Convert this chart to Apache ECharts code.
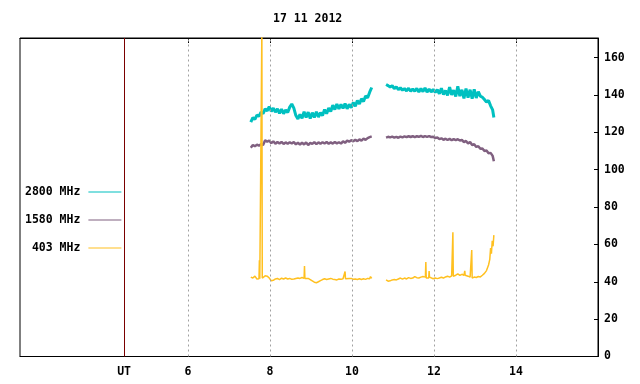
<!DOCTYPE html>
<html>
<head>
<meta charset="utf-8">
<script src="https://cdn.jsdelivr.net/npm/echarts@6/dist/echarts.min.js"></script>
<style>html,body{margin:0;padding:0;background:#fff}#c{width:640px;height:384px}</style>
</head>
<body>
<div id="c"></div>
<script>
var titleText = '17 11 2012';
var seriesNames = ['2800 MHz', '1580 MHz', '403 MHz'];
var xTicks = [6, 8, 10, 12, 14];
var utHour = 4.44;
var yTicks = [0, 20, 40, 60, 80, 100, 120, 140, 160];

// sample times (UT hours)
var timesA1 = [7.53,7.58,7.63,7.68,7.73,7.78,7.83,7.88,7.93,7.98,8.03,8.08,8.13,8.18,8.23,8.28,8.33,8.38,8.43,8.48,8.53,8.58,8.63,8.68,8.73,8.78,8.83,8.88,8.93,8.98,9.03,9.08,9.13,9.18,9.23,9.28,9.33,9.38,9.43,9.48,9.53,9.58,9.63,9.68,9.73,9.78,9.83,9.88,9.93,9.98,10.03,10.08,10.13,10.18,10.23,10.28,10.33,10.38,10.43,10.48];
var timesA2 = [10.83,10.88,10.93,10.98,11.03,11.08,11.13,11.18,11.23,11.28,11.33,11.38,11.43,11.48,11.53,11.58,11.63,11.68,11.73,11.78,11.83,11.88,11.93,11.98,12.03,12.08,12.13,12.18,12.23,12.28,12.33,12.38,12.43,12.48,12.53,12.58,12.63,12.68,12.73,12.78,12.83,12.88,12.93,12.98,13.03,13.08,13.13,13.18,13.23,13.28,13.33,13.38,13.43,13.46];

var mhz2800_1 = [125.5,127.8,127.0,129.2,128.6,130.8,130.0,132.6,131.5,133.8,131.2,133.0,130.8,132.6,130.2,132.4,130.0,132.0,130.6,133.5,135.2,133.0,129.0,127.2,129.6,127.5,131.0,128.0,130.8,127.4,130.5,128.0,131.0,128.2,130.5,129.0,132.2,130.0,133.0,131.2,134.5,132.2,135.2,132.5,135.0,132.8,135.4,132.6,135.0,133.2,136.0,134.0,137.0,135.2,138.0,136.5,139.5,138.5,141.5,144.0];
var mhz2800_2 = [145.6,145.0,144.2,145.0,143.4,144.4,142.8,143.8,142.6,143.4,142.2,143.6,142.0,143.2,142.0,143.5,141.6,143.4,141.8,143.8,141.5,143.2,141.6,143.0,141.4,142.8,140.6,143.6,140.2,142.4,139.8,144.2,140.0,142.6,139.2,144.6,139.4,142.8,138.2,143.4,138.6,142.8,138.0,143.0,138.4,141.8,139.4,138.8,137.6,136.2,137.0,134.2,132.0,128.0];

var mhz1580_1 = [111.8,113.2,112.6,113.4,112.9,113.6,113.2,115.8,115.0,115.6,114.2,115.2,113.9,114.8,114.0,114.9,113.8,114.6,113.9,114.7,114.0,114.8,113.6,114.4,113.4,114.5,113.5,114.6,113.2,114.3,113.8,114.8,113.7,114.6,113.9,114.7,114.0,114.8,113.9,114.6,114.0,114.8,114.1,114.7,114.0,115.2,114.4,115.6,115.0,115.8,115.2,116.0,115.3,116.2,115.6,116.6,116.0,116.9,117.4,117.8];
var mhz1580_2 = [117.2,117.6,117.3,117.7,117.2,117.6,117.1,117.7,117.3,117.8,117.4,117.9,117.5,118.0,117.4,117.9,117.6,118.1,117.5,118.0,117.6,118.0,117.5,117.6,117.0,117.2,116.4,116.8,116.0,116.6,115.9,116.5,115.8,116.4,115.8,116.3,115.6,115.9,114.8,115.4,114.0,114.8,113.2,113.6,112.2,112.6,111.2,111.4,110.0,110.3,108.8,109.0,107.4,104.5];

var timesB1 = [7.53,7.55,7.58,7.61,7.63,7.68,7.71,7.73,7.74,7.75,7.78,7.79,7.80,7.81,7.83,7.88,7.93,7.98,8.03,8.08,8.13,8.18,8.23,8.28,8.33,8.38,8.43,8.48,8.53,8.58,8.63,8.68,8.73,8.78,8.83,8.84,8.85,8.88,8.93,8.98,9.03,9.08,9.13,9.18,9.23,9.28,9.33,9.38,9.43,9.48,9.53,9.58,9.63,9.68,9.73,9.78,9.82,9.83,9.84,9.88,9.93,9.98,10.03,10.08,10.13,10.18,10.23,10.28,10.33,10.38,10.43,10.45,10.48];
var mhz403_1 = [42.5,41.5,42.0,41.2,43.0,41.5,41.3,41.6,51.5,41.6,41.8,41.8,175,42.0,42.2,43.2,43.0,42.0,40.5,40.8,41.5,41.8,41.2,41.9,41.5,42.0,41.5,41.8,41.3,41.5,41.8,42.0,41.8,42.3,41.8,48.5,41.8,41.5,41.8,41.2,40.5,39.8,39.5,40.0,40.6,41.2,41.6,41.2,41.5,41.8,41.4,41.2,41.0,41.5,41.3,41.6,41.5,45.5,41.6,42.0,41.8,41.8,41.3,41.5,41.2,41.6,41.2,41.6,41.3,41.8,41.6,42.8,41.8];
var timesB2 = [10.83,10.88,10.93,10.98,11.03,11.08,11.13,11.18,11.23,11.28,11.33,11.38,11.43,11.48,11.53,11.58,11.63,11.68,11.73,11.77,11.79,11.80,11.81,11.84,11.87,11.88,11.89,11.93,11.98,12.03,12.08,12.13,12.18,12.23,12.28,12.33,12.38,12.43,12.45,12.46,12.47,12.53,12.58,12.63,12.68,12.73,12.75,12.76,12.83,12.88,12.91,12.92,12.93,12.98,13.03,13.08,13.13,13.18,13.23,13.28,13.33,13.36,13.38,13.40,13.42,13.44,13.46];
var mhz403_2 = [41.0,40.3,40.5,41.0,41.2,41.0,41.5,42.0,41.4,42.0,41.5,42.2,41.8,42.0,42.8,42.2,42.0,42.5,42.8,43.8,42.5,50.6,42.0,41.5,42.0,45.8,42.5,42.0,41.6,42.0,41.7,42.0,42.4,42.0,42.6,43.0,42.5,43.2,44.0,66.5,43.0,43.5,44.2,43.4,44.0,43.5,45.8,43.5,43.0,42.5,42.0,57.0,42.0,42.5,42.3,42.8,42.6,43.5,44.5,46.0,49.0,52.0,58.0,55.0,62.0,59.0,65.0];

function build(t1, v1, t2, v2) {
  var d = [];
  for (var i = 0; i < t1.length; i++) d.push([t1[i], v1[i]]);
  d.push([(t1[t1.length - 1] + t2[0]) / 2, null]);
  for (var j = 0; j < t2.length; j++) d.push([t2[j], v2[j]]);
  return d;
}

var FONT = 'DejaVu Sans Mono';
var colors = ['#00c0c0', '#806080', '#ffc020'];

var chart = echarts.init(document.getElementById('c'), null, {renderer: 'canvas'});
chart.setOption({
  animation: false,
  backgroundColor: '#ffffff',
  title: {
    text: titleText, left: 273, top: 13, padding: 0,
    textStyle: {fontFamily: FONT, fontWeight: 'bold', fontSize: 11.5, color: '#000'}
  },
  legend: {
    orient: 'vertical', left: 20, top: 181, align: 'right',
    icon: 'rect', itemWidth: 33, itemHeight: 1, itemGap: 16,
    data: seriesNames,
    formatter: function (n) { while (n.length < 8) n = ' ' + n; return n; },
    textStyle: {fontFamily: FONT, fontWeight: 'bold', fontSize: 11.5, color: '#000', padding: [0, 3, 0, 0]}
  },
  grid: {left: 20, right: 42, top: 38, bottom: 27.5, show: true, borderColor: '#000', borderWidth: 1, containLabel: false},
  xAxis: [{
    type: 'value', min: 1.9, max: 16, position: 'bottom',
    axisLine: {show: true, lineStyle: {color: '#000', width: 1}},
    axisTick: {show: false},
    splitLine: {show: false},
    axisLabel: {
      customValues: [utHour].concat(xTicks),
      margin: 10,
      formatter: function (v) { return Math.abs(v - utHour) < 1e-6 ? 'UT' : String(v); },
      fontFamily: FONT, fontWeight: 'bold', fontSize: 11.5, color: '#000'
    }
  }, {
    type: 'value', min: 1.9, max: 16, position: 'top',
    axisLine: {show: true, lineStyle: {color: '#000', width: 1}},
    axisTick: {show: true, inside: true, length: 5, customValues: xTicks, lineStyle: {color: '#000'}},
    axisLabel: {show: false},
    splitLine: {show: false}
  }],
  yAxis: {
    type: 'value', min: 0, max: 170.5, interval: 20, position: 'right',
    axisLine: {show: true, lineStyle: {color: '#000', width: 1}},
    axisTick: {show: true, inside: true, length: 4, lineStyle: {color: '#000'}},
    splitLine: {show: false},
    axisLabel: {
      margin: 6, showMaxLabel: false,
      formatter: function (v) { return yTicks.indexOf(v) >= 0 ? String(v) : ''; },
      fontFamily: FONT, fontWeight: 'bold', fontSize: 11.5, color: '#000'
    }
  },
  series: [{
    name: seriesNames[0], type: 'line', symbol: 'none', connectNulls: false,
    lineStyle: {width: 3, color: colors[0]}, itemStyle: {color: colors[0]},
    data: build(timesA1, mhz2800_1, timesA2, mhz2800_2),
    z: 3,
    markLine: {
      silent: true, symbol: 'none', label: {show: false},
      data: xTicks.map(function (v) {
        return {xAxis: v, lineStyle: {color: '#a0a0a0', type: [2, 3], width: 1}};
      }).concat([{xAxis: utHour, lineStyle: {color: '#7a0000', type: 'solid', width: 1}}])
    }
  }, {
    name: seriesNames[1], type: 'line', symbol: 'none', connectNulls: false,
    lineStyle: {width: 2.5, color: colors[1]}, itemStyle: {color: colors[1]},
    data: build(timesA1, mhz1580_1, timesA2, mhz1580_2), z: 3
  }, {
    name: seriesNames[2], type: 'line', symbol: 'none', connectNulls: false,
    lineStyle: {width: 1.5, color: colors[2]}, itemStyle: {color: colors[2]},
    data: build(timesB1, mhz403_1, timesB2, mhz403_2), z: 3
  }]
});
</script>
</body>
</html>
